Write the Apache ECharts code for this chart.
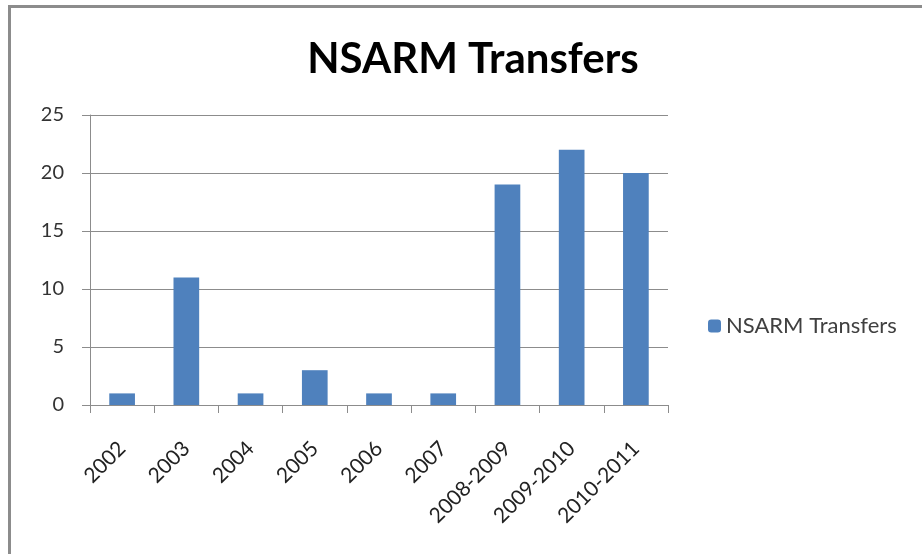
<!DOCTYPE html>
<html>
<head>
<meta charset="utf-8">
<script src="https://cdn.jsdelivr.net/npm/echarts@6/dist/echarts.min.js"></script>
<style>
  html, body { margin: 0; padding: 0; background: #fff; }
  #frame { position: absolute; left: 8px; top: 5px; width: 914px; height: 549px;
           border-left: 3px solid #8c8c8c; border-top: 3px solid #8c8c8c; }
  #main { position: absolute; left: 0; top: 0; width: 922px; height: 554px; }
</style>
</head>
<body>
<div id="frame"></div>
<div id="main"></div>
<script>
var categories = ['2002', '2003', '2004', '2005', '2006', '2007', '2008-2009', '2009-2010', '2010-2011'];
var transfers = [1, 11, 1, 3, 1, 1, 19, 22, 20];
var seriesName = 'NSARM Transfers';

var myChart = echarts.init(document.getElementById('main'));
var option = {
  title: {
    text: 'NSARM Transfers',
    left: 468,
    textAlign: 'center',
    top: 33,
    textStyle: { fontFamily: 'Lato', fontWeight: 'bold', fontSize: 42, color: '#000' }
  },
  legend: {
    data: [seriesName],
    orient: 'vertical',
    left: 703,
    top: 310,
    itemWidth: 13,
    itemHeight: 13,
    itemGap: 6,
    textStyle: { fontFamily: 'Lato', fontSize: 22, color: '#404040' }
  },
  grid: { left: 90, right: 254, top: 115, bottom: 149 },
  xAxis: {
    type: 'category',
    data: categories,
    axisLine: { lineStyle: { color: '#8c8c8c' } },
    axisTick: { show: true, length: 8, lineStyle: { color: '#8c8c8c' } },
    axisLabel: { rotate: 45, fontFamily: 'Lato', fontSize: 21, color: '#222', margin: 40 }
  },
  yAxis: {
    type: 'value',
    min: 0,
    max: 25,
    interval: 5,
    axisLine: { show: true, lineStyle: { color: '#8c8c8c' } },
    axisTick: { show: true, length: 8, lineStyle: { color: '#8c8c8c' } },
    splitLine: { lineStyle: { color: '#8c8c8c' } },
    axisLabel: { fontFamily: 'Lato', fontSize: 20, color: '#333', margin: 26 }
  },
  series: [{
    name: seriesName,
    type: 'bar',
    data: transfers,
    barWidth: '40%',
    itemStyle: { color: '#4f81bd' }
  }],
  animation: false
};
myChart.setOption(option);
</script>
</body>
</html>
